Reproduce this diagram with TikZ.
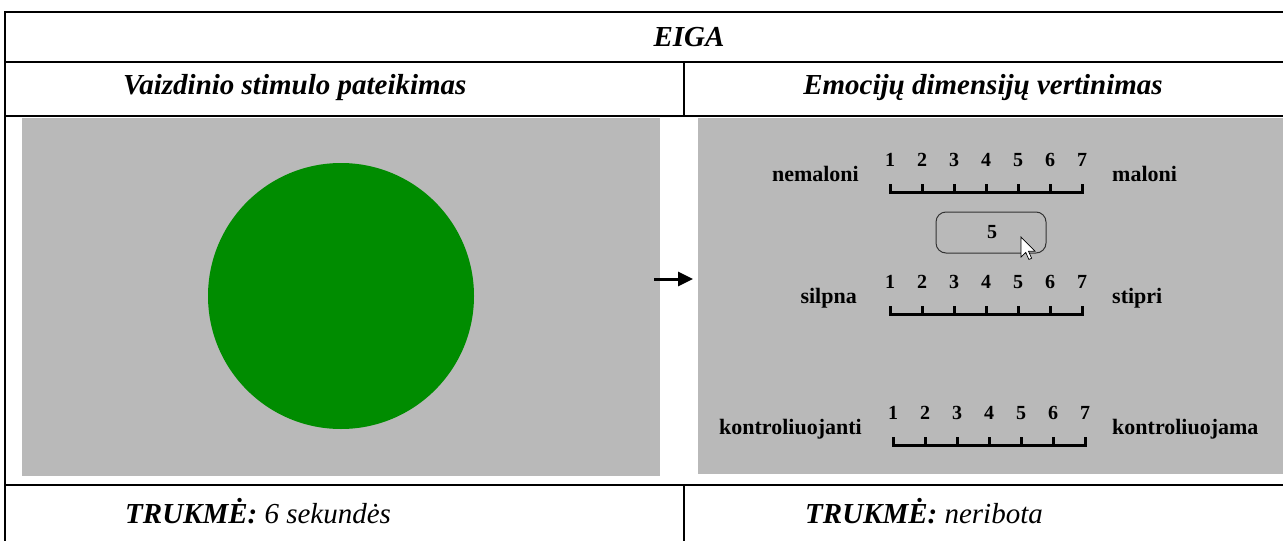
\documentclass[tikz,border=0pt]{standalone}
\usepackage{fontspec}
\setmainfont{Liberation Serif}
\usetikzlibrary{arrows.meta}
\definecolor{panelgray}{RGB}{185,185,185}
\definecolor{stimgreen}{RGB}{0,140,0}
\begin{document}
\begin{tikzpicture}[x=1pt,y=-1pt,
  hdr/.style={font=\fontsize{29}{32}\selectfont\bfseries\itshape, inner sep=0pt},
  foot/.style={font=\fontsize{29}{32}\selectfont\itshape, inner sep=0pt, anchor=west},
  lbl/.style={font=\fontsize{22}{24}\selectfont\bfseries, inner sep=0pt},
  num/.style={font=\fontsize{20}{22}\selectfont\bfseries, inner sep=0pt},
  rule/.style={line width=2.5pt},
  vrule/.style={line width=1.5pt},
  panel/.style={fill=panelgray, draw=none, inner sep=0pt, anchor=north west},
  scaleline/.style={line width=3pt, line join=miter},
  likert/.pic={
    \draw[scaleline] (0,-8) -- (0,0) -- (192,0) -- (192,-8);
    \foreach \k in {1,...,5} \draw[scaleline] (32*\k,0) -- (32*\k,-8);
    \foreach \k in {1,...,7} \node[num] (-n\k) at ({32*(\k-1)},-32) {\k};
  }]
\useasboundingbox (0,0) rectangle (1283,541);
\fill[white] (0,0) rectangle (1283,541);

% panels
\node[panel, minimum width=638pt, minimum height=358pt] (left) at (22,118) {};
\node[panel, minimum width=585pt, minimum height=356pt] (right) at (698,118) {};

% stimulus
\node[circle, fill=stimgreen, minimum size=266pt, inner sep=0pt] (stim) at (341,296) {};

% table rules
\draw[rule] (5,12) -- (1283,12);
\draw[rule] (5,62) -- (1283,62);
\draw[rule] (5,116) -- (1283,116);
\draw[rule] (5,485) -- (1283,485);
\draw[vrule] (5,11) -- (5,541);
\draw[vrule] (684,62) -- (684,116);
\draw[vrule] (684,485) -- (684,541);

% headings
\node[hdr] (eiga) at (689,37) {EIGA};
\node[hdr, anchor=west] (h1) at (123,88) {Vaizdinio stimulo pateikimas};
\node[hdr] (h2) at (983,88) {Emocijų dimensijų vertinimas};

% footers
\node[foot] (f1) at (125,511) {\bfseries TRUKMĖ: \mdseries 6 sekundės};
\node[foot] (f2) at (805,511) {\bfseries TRUKMĖ: \mdseries neribota};

% arrow
\coordinate (as) at (654,279);
\coordinate (ae) at (693,279);
\draw[line width=3pt, -{Triangle[length=15pt,width=14pt]}] (as) -- (ae);

% rating scales
\pic (s1) at (890,192) {likert};
\pic (s2) at (890,314) {likert};
\pic (s3) at (893,445) {likert};

\node[lbl, anchor=east] (l1) at (859,174) {nemaloni};
\node[lbl, anchor=west] (r1) at (1112,174) {maloni};
\node[lbl, anchor=east] (l2) at (857,298) {silpna};
\node[lbl, anchor=west] (r2) at (1112,298) {stipri};
\node[lbl, anchor=east] (l3) at (862,429) {kontroliuojanti};
\node[lbl, anchor=west] (r3) at (1112,429) {kontroliuojama};

% answer box
\draw[line width=1pt, draw=black!80, rounded corners=10pt] (936,212) rectangle (1046,253);
\node[num] (ans) at (992,232) {5};

% cursor
\begin{scope}[shift={(1021,237)}, scale=1.25]
\draw[fill=white, line width=0.7pt, line join=miter] (0,0) -- (0,16) -- (3.8,12.3) -- (6.3,18) -- (8.5,17) -- (6,11.4) -- (11.2,11.4) -- cycle;
\end{scope}
\end{tikzpicture}
\end{document}
